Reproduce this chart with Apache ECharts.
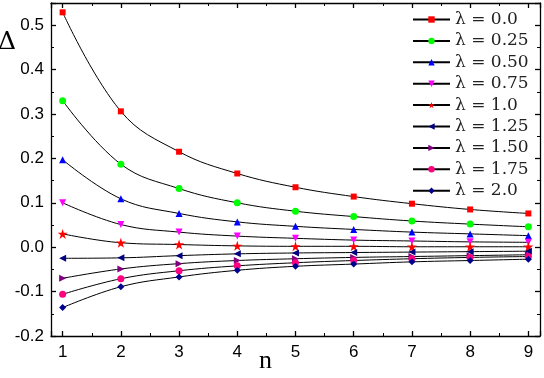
<!DOCTYPE html>
<html>
<head>
<meta charset="utf-8">
<script src="https://cdn.jsdelivr.net/npm/echarts@6/dist/echarts.min.js"></script>
<style>
  html, body { margin: 0; padding: 0; background: #fff; }
  #chart { width: 544px; height: 378px; }
</style>
</head>
<body>
<div id="chart"></div>
<script>
// n values on the x axis
var nValues = [1, 2, 3, 4, 5, 6, 7, 8, 9];
var yTicks = [-0.2, -0.1, 0.0, 0.1, 0.2, 0.3, 0.4, 0.5];

// Delta for each lambda
var lam000 = [0.529, 0.306, 0.215, 0.166, 0.135, 0.114, 0.098, 0.085, 0.076];
var lam025 = [0.330, 0.187, 0.132, 0.100, 0.081, 0.069, 0.059, 0.052, 0.046];
var lam050 = [0.197, 0.109, 0.076, 0.057, 0.047, 0.040, 0.034, 0.030, 0.026];
var lam075 = [0.100, 0.051, 0.034, 0.025, 0.020, 0.016, 0.014, 0.012, 0.011];
var lam100 = [0.030, 0.010, 0.006, 0.003, 0.002, 0.002, 0.001, 0.001, 0.001];
var lam125 = [-0.025, -0.024, -0.019, -0.015, -0.013, -0.012, -0.011, -0.010, -0.009];
var lam150 = [-0.070, -0.049, -0.037, -0.030, -0.026, -0.023, -0.021, -0.019, -0.017];
var lam175 = [-0.106, -0.071, -0.053, -0.042, -0.035, -0.030, -0.026, -0.023, -0.021];
var lam200 = [-0.136, -0.089, -0.067, -0.052, -0.043, -0.038, -0.033, -0.030, -0.027];

var names = ['λ = 0.0', 'λ = 0.25', 'λ = 0.50', 'λ = 0.75', 'λ = 1.0',
             'λ = 1.25', 'λ = 1.50', 'λ = 1.75', 'λ = 2.0'];
var allData = [lam000, lam025, lam050, lam075, lam100, lam125, lam150, lam175, lam200];

var starPath = 'path://M50 0 L61.23 34.55 L97.55 34.55 L68.17 55.9 L79.39 90.45 L50 69.1 L20.61 90.45 L31.83 55.9 L2.45 34.55 L38.77 34.55 Z';
var markers = [
  { symbol: 'rect', size: 6, rotate: 0, color: '#ff0000' },
  { symbol: 'circle', size: 7, rotate: 0, color: '#00ff00' },
  { symbol: 'triangle', size: 7, rotate: 0, color: '#0000ff' },
  { symbol: 'triangle', size: 7, rotate: 180, color: '#ff00ff' },
  { symbol: starPath, size: 10, rotate: 0, color: '#ff0000' },
  { symbol: 'triangle', size: 7, rotate: 90, color: '#000080' },
  { symbol: 'triangle', size: 7, rotate: -90, color: '#800080' },
  { symbol: 'circle', size: 7, rotate: 0, color: '#ff0080' },
  { symbol: 'diamond', size: 7, rotate: 0, color: '#000090' }
];

var series = [];
for (var i = 0; i < allData.length; i++) {
  var pts = [];
  for (var j = 0; j < nValues.length; j++) {
    pts.push([nValues[j], allData[i][j]]);
  }
  series.push({
    name: names[i],
    type: 'line',
    data: pts,
    smooth: 0.4,
    symbol: markers[i].symbol,
    symbolSize: markers[i].size,
    symbolRotate: markers[i].rotate,
    itemStyle: { color: markers[i].color },
    lineStyle: { color: '#000', width: 1 },
    z: 3
  });
}

function axisCommon() {
  return {
    axisLine: { onZero: false, lineStyle: { color: '#000', width: 1.3 } },
    axisTick: { inside: true, length: 5, lineStyle: { color: '#000', width: 1.3 } },
    minorTick: { show: true, splitNumber: 2, length: 3, lineStyle: { color: '#000', width: 1 } },
    splitLine: { show: false }
  };
}

var chart = echarts.init(document.getElementById('chart'));
chart.setOption({
  animation: false,
  grid: { left: 51, right: 4, top: 3, bottom: 42 },
  legend: {
    orient: 'vertical',
    left: 412,
    top: 11,
    padding: 0,
    itemWidth: 37,
    itemHeight: 8,
    itemGap: 4.4,
    textStyle: { fontFamily: 'DejaVu Serif', fontSize: 17, lineHeight: 17, color: '#222' },
    data: names
  },
  xAxis: [
    Object.assign({
      type: 'value', min: 0.8, max: 9.2, minInterval: 1, maxInterval: 1,
      position: 'bottom',
      axisLabel: {
        fontFamily: 'Liberation Sans', fontSize: 17, color: '#000', margin: 8,
        showMinLabel: false, showMaxLabel: false,
        formatter: function (v) { return Math.abs(v - Math.round(v)) < 1e-6 ? String(Math.round(v)) : ''; }
      }
    }, axisCommon()),
    Object.assign({
      type: 'value', min: 0.8, max: 9.2, minInterval: 1, maxInterval: 1,
      position: 'top', axisLabel: { show: false }
    }, axisCommon())
  ],
  yAxis: [
    Object.assign({
      type: 'value', min: yTicks[0], max: 0.55, interval: 0.1,
      position: 'left',
      axisLabel: {
        fontFamily: 'Liberation Sans', fontSize: 17, color: '#000', margin: 7,
        showMaxLabel: false,
        formatter: function (v) {
          for (var k = 0; k < yTicks.length; k++) {
            if (Math.abs(v - yTicks[k]) < 1e-6) return yTicks[k].toFixed(1);
          }
          return '';
        }
      }
    }, axisCommon()),
    Object.assign({
      type: 'value', min: yTicks[0], max: 0.55, interval: 0.1,
      position: 'right', axisLabel: { show: false }
    }, axisCommon())
  ],
  graphic: [
    { type: 'text', left: -2, top: 30, style: { text: 'Δ', font: '25px "DejaVu Serif"', fill: '#000' } },
    { type: 'text', left: 259, top: 348, style: { text: 'n', font: '26px "Liberation Serif"', fill: '#000' } }
  ],
  series: series
});
</script>
</body>
</html>
